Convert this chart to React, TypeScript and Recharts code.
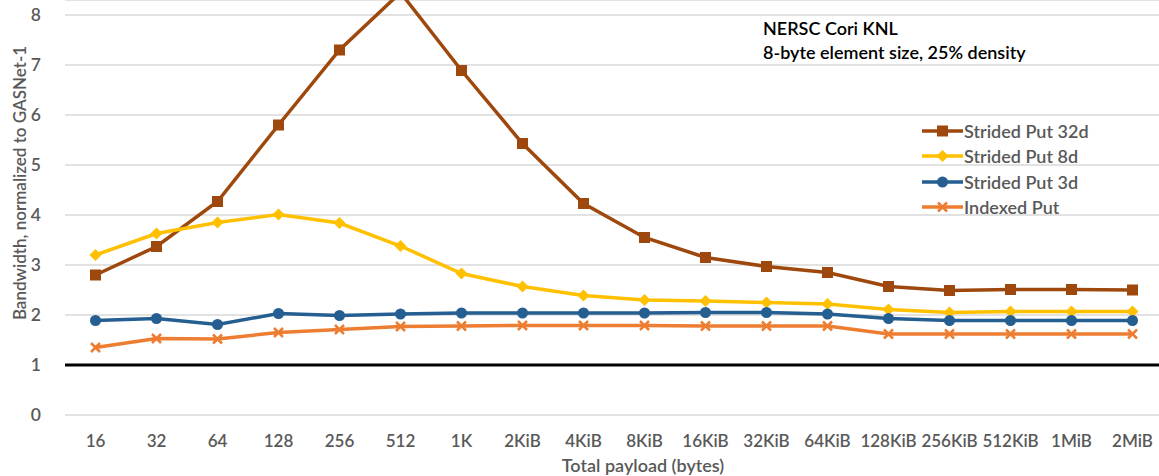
import React from "react";
import {
  LineChart,
  Line,
  XAxis,
  YAxis,
  CartesianGrid,
  ReferenceLine,
} from "recharts";

const categories = [
  "16", "32", "64", "128", "256", "512", "1K", "2KiB", "4KiB", "8KiB",
  "16KiB", "32KiB", "64KiB", "128KiB", "256KiB", "512KiB", "1MiB", "2MiB",
];

const strided32d = [2.8, 3.37, 4.27, 5.8, 7.3, 8.45, 6.89, 5.43, 4.23, 3.55, 3.15, 2.97, 2.85, 2.57, 2.49, 2.51, 2.51, 2.5];
const strided8d = [3.2, 3.63, 3.85, 4.01, 3.84, 3.38, 2.83, 2.57, 2.39, 2.3, 2.28, 2.25, 2.22, 2.11, 2.05, 2.07, 2.07, 2.07];
const strided3d = [1.89, 1.93, 1.81, 2.03, 1.99, 2.02, 2.04, 2.04, 2.04, 2.04, 2.05, 2.05, 2.02, 1.93, 1.89, 1.89, 1.89, 1.89];
const indexedPut = [1.35, 1.53, 1.52, 1.65, 1.71, 1.77, 1.78, 1.79, 1.79, 1.79, 1.78, 1.78, 1.78, 1.62, 1.62, 1.62, 1.62, 1.62];

const yTicks = [0, 1, 2, 3, 4, 5, 6, 7, 8];

const data = categories.map((c, i) => ({
  size: c,
  s32: strided32d[i],
  s8: strided8d[i],
  s3: strided3d[i],
  idx: indexedPut[i],
}));

const FONT = "Lato, 'Open Sans', sans-serif";
const GREY = "#595959";
const WEIGHT = 600;

const COLORS = {
  s32: "#9E480E",
  s8: "#FFC000",
  s3: "#255E91",
  idx: "#ED7D31",
};

// marker shapes
// eslint-disable-next-line @typescript-eslint/no-explicit-any
const SquareDot = (p: any) => {
  if (p.cx == null || p.cy == null) return null;
  return <rect x={p.cx - 5.5} y={p.cy - 5.5} width={11} height={11} fill={COLORS.s32} />;
};
// eslint-disable-next-line @typescript-eslint/no-explicit-any
const DiamondDot = (p: any) => {
  if (p.cx == null || p.cy == null) return null;
  const { cx, cy } = p;
  return <path d={`M${cx},${cy - 6}L${cx + 6},${cy}L${cx},${cy + 6}L${cx - 6},${cy}Z`} fill={COLORS.s8} />;
};
// eslint-disable-next-line @typescript-eslint/no-explicit-any
const CircleDot = (p: any) => {
  if (p.cx == null || p.cy == null) return null;
  return <circle cx={p.cx} cy={p.cy} r={5.5} fill={COLORS.s3} />;
};
// eslint-disable-next-line @typescript-eslint/no-explicit-any
const CrossDot = (p: any) => {
  if (p.cx == null || p.cy == null) return null;
  const { cx, cy } = p;
  return (
    <path
      d={`M${cx - 4.5},${cy - 4.5}L${cx + 4.5},${cy + 4.5}M${cx + 4.5},${cy - 4.5}L${cx - 4.5},${cy + 4.5}`}
      stroke={COLORS.idx}
      strokeWidth={2.5}
    />
  );
};

const legendItems = [
  { name: "Strided Put 32d", color: COLORS.s32, Marker: SquareDot },
  { name: "Strided Put 8d", color: COLORS.s8, Marker: DiamondDot },
  { name: "Strided Put 3d", color: COLORS.s3, Marker: CircleDot },
  { name: "Indexed Put", color: COLORS.idx, Marker: CrossDot },
];

const ChartLegend = () => (
  <div style={{ position: "absolute", left: 922, top: 118, fontFamily: FONT, fontSize: 18, fontWeight: WEIGHT, color: GREY }}>
    {legendItems.map(({ name, color, Marker }) => (
      <div key={name} style={{ display: "flex", alignItems: "center", height: 25.5 }}>
        <svg width={41} height={14} style={{ marginRight: 1 }}>
          <line x1={0} y1={7} x2={41} y2={7} stroke={color} strokeWidth={3.5} />
          <Marker cx={20.5} cy={7} />
        </svg>
        <span>{name}</span>
      </div>
    ))}
  </div>
);

export default function App() {
  return (
    <div style={{ position: "absolute", top: 0, left: 0, width: 1159, height: 476, overflow: "hidden", background: "#fff" }}>
      <LineChart
        width={1163}
        height={476}
        data={data}
        margin={{ top: 0, right: 0, left: 0, bottom: 0 }}
      >
        <CartesianGrid vertical={false} stroke="#D9D9D9" strokeWidth={1.5} />
        <XAxis
          dataKey="size"
          axisLine={false}
          tickLine={false}
          height={61}
          padding={{ left: 30.5, right: 30.5 }}
          tick={{ fontSize: 17, fill: GREY, fontFamily: FONT, fontWeight: WEIGHT }}
          tickMargin={14}
          interval={0}
          label={() => (
            <text x={643} y={472} textAnchor="middle" fill={GREY} fontSize={18} fontWeight={WEIGHT} fontFamily={FONT}>
              Total payload (bytes)
            </text>
          )}
        />
        <YAxis
          domain={[0, 8.3]}
          ticks={yTicks}
          allowDataOverflow
          axisLine={false}
          tickLine={false}
          width={65}
          tickMargin={18}
          tick={{ fontSize: 17.5, fill: GREY, fontFamily: FONT, fontWeight: WEIGHT }}
          label={() => (
            <text
              x={26}
              y={183}
              transform="rotate(-90 26 183)"
              textAnchor="middle"
              fill={GREY}
              fontSize={17}
              fontWeight={WEIGHT}
              fontFamily={FONT}
            >
              Bandwidth, normalized to GASNet-1
            </text>
          )}
        />
        <ReferenceLine y={1} stroke="#000" strokeWidth={3} />
        <Line dataKey="s32" name="Strided Put 32d" stroke={COLORS.s32} strokeWidth={3.5} dot={<SquareDot />} activeDot={false} isAnimationActive={false} />
        <Line dataKey="s8" name="Strided Put 8d" stroke={COLORS.s8} strokeWidth={3.5} dot={<DiamondDot />} activeDot={false} isAnimationActive={false} />
        <Line dataKey="s3" name="Strided Put 3d" stroke={COLORS.s3} strokeWidth={3.5} dot={<CircleDot />} activeDot={false} isAnimationActive={false} />
        <Line dataKey="idx" name="Indexed Put" stroke={COLORS.idx} strokeWidth={3.5} dot={<CrossDot />} activeDot={false} isAnimationActive={false} />
      </LineChart>
      <ChartLegend />
      <div
        style={{
          position: "absolute",
          left: 763,
          top: 16,
          fontFamily: FONT,
          fontSize: 18,
          fontWeight: WEIGHT,
          color: "#000",
          lineHeight: "24px",
        }}
      >
        <div>NERSC Cori KNL</div>
        <div>8-byte element size, 25% density</div>
      </div>
    </div>
  );
}
